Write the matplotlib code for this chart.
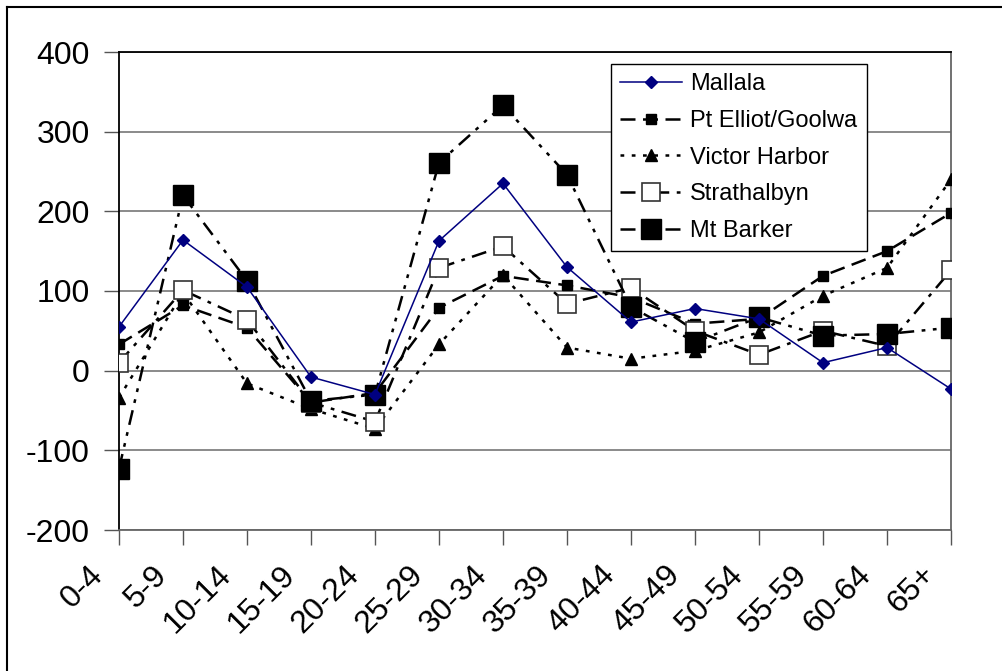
import matplotlib
matplotlib.use("Agg")
import matplotlib.pyplot as plt
from matplotlib.lines import Line2D
from matplotlib.transforms import ScaledTranslation

plt.rcParams['font.family'] = ['Liberation Sans', 'DejaVu Sans']

categories = ['0-4', '5-9', '10-14', '15-19', '20-24', '25-29', '30-34',
              '35-39', '40-44', '45-49', '50-54', '55-59', '60-64', '65+']

mallala = [55, 164, 105, -8, -30, 163, 235, 130, 61, 78, 65, 10, 29, -23]
pt_elliot = [33, 82, 54, -40, -28, 79, 119, 107, 92, 59, 65, 119, 150, 198]
victor = [-34, 98, -16, -48, -73, 33, 120, 29, 15, 25, 48, 94, 129, 240]
strathalbyn = [10, 101, 64, -40, -64, 129, 156, 84, 104, 50, 20, 50, 31, 126]
mt_barker = [-123, 220, 113, -38, -30, 261, 333, 246, 80, 36, 67, 44, 46, 54]

series_names = ['Mallala', 'Pt Elliot/Goolwa', 'Victor Harbor', 'Strathalbyn', 'Mt Barker']
yticks = [-200, -100, 0, 100, 200, 300, 400]

fig = plt.figure(figsize=(10.02, 6.71), dpi=100)
ax = fig.add_axes([119/1002, 1-530/671, (951-119)/1002, (530-52)/671])

x = list(range(len(categories)))

ax.plot(x, mallala, color='#000080', lw=1.1, marker='D', ms=6,
        mfc='#000080', mec='#000080', label=series_names[0], zorder=5)
ax.plot(x, pt_elliot, color='black', lw=1.8, ls=(0, (6, 3)), marker='s', ms=7,
        mfc='black', mec='black', label=series_names[1], zorder=4)
ax.plot(x, victor, color='black', lw=1.8, ls=(0, (1.5, 3)), marker='^', ms=8,
        mfc='black', mec='black', label=series_names[2], zorder=4)
ax.plot(x, strathalbyn, color='black', lw=1.8, ls=(0, (6, 3, 1.5, 3)), marker='s', ms=13,
        mfc='white', mec='#333333', mew=1.2, label=series_names[3], zorder=4)
ax.plot(x, mt_barker, color='black', lw=1.8, ls=(0, (6, 3, 1.5, 3, 1.5, 3)), marker='s', ms=14,
        mfc='black', mec='black', label=series_names[4], zorder=4)

ax.set_xlim(0, len(categories) - 1)
ax.set_ylim(-200, 400)
ax.set_yticks(yticks)
ax.set_yticklabels([str(v) for v in yticks], fontsize=23)
ax.set_xticks(x)
ax.set_xticklabels(categories, fontsize=23, rotation=45, ha='right', va='center',
                   rotation_mode='anchor')
ax.tick_params(axis='y', direction='out', length=11, width=1, color='#555555', pad=10)
ax.tick_params(axis='x', direction='out', length=11, width=1, color='#555555', pad=18)
offset = ScaledTranslation(-20/100, 0, fig.dpi_scale_trans)
for lab in ax.get_xticklabels():
    lab.set_transform(lab.get_transform() + offset)
ax.grid(axis='y', color='#777777', lw=1.2, zorder=0)
ax.set_axisbelow(True)
for s in ['left', 'top']:
    ax.spines[s].set_color('black')
    ax.spines[s].set_linewidth(1.3)
for s in ['right', 'bottom']:
    ax.spines[s].set_color('#666666')
    ax.spines[s].set_linewidth(1.3)

leg = ax.legend(loc='upper left', bbox_to_anchor=(611/1002, 1-64/671),
                bbox_transform=fig.transFigure, fontsize=17, frameon=True,
                fancybox=False, edgecolor='black', framealpha=1,
                handlelength=2.6, handletextpad=0.35, labelspacing=0.62,
                borderpad=0.4, borderaxespad=0)
leg.get_frame().set_linewidth(1.0)

# outer chart border (left and top visible)
fig.add_artist(Line2D([7/1002, 7/1002], [0, 1-7/671], transform=fig.transFigure,
                      color='black', lw=1.5))
fig.add_artist(Line2D([7/1002, 1], [1-7/671, 1-7/671], transform=fig.transFigure,
                      color='black', lw=1.5))

fig.savefig('out.png', dpi=100)
